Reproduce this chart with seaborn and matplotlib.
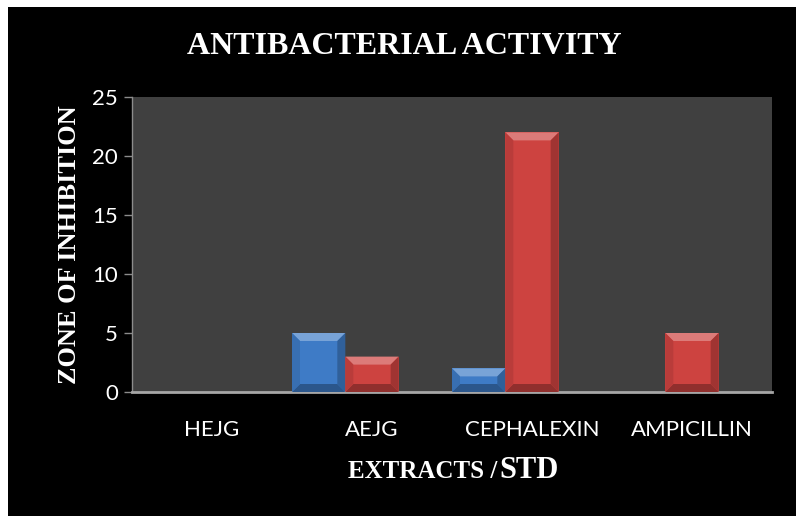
import numpy as np
import pandas as pd
import matplotlib
matplotlib.use("Agg")
import matplotlib.pyplot as plt
import seaborn as sns
from matplotlib.patches import Rectangle, Polygon
from matplotlib.transforms import IdentityTransform

# -------------------------
# Data
# -------------------------
categories = ["HEJG", "AEJG", "CEPHALEXIN", "AMPICILLIN"]
series_names = ["Series1", "Series2", "Series3"]
series1 = [0, 5, 2, 0]
series2 = [0, 3, 22, 5]
series3 = [0, 0, 0, 0]
y_ticks = [0, 5, 10, 15, 20, 25]

df = pd.DataFrame({
    "extract": categories * 3,
    "series": [s for s in series_names for _ in categories],
    "zone": series1 + series2 + series3,
})

colors = ["#3e7bc6", "#cd4340", "#9bbb59"]

# -------------------------
# Style
# -------------------------
sns.set_style("dark", {"axes.facecolor": "#404040", "figure.facecolor": "black"})
plt.rcParams["font.family"] = ["Lato", "DejaVu Sans"]

fig = plt.figure(figsize=(7.96, 5.16), dpi=100, facecolor="white")
# black chart area with the thin white margin at top/left
fig.patches.append(Rectangle((8 / 796, 0), 1, 1 - 7 / 516, transform=fig.transFigure,
                             facecolor="black", edgecolor="none", zorder=-10))

ax = fig.add_axes([132 / 796, 124 / 516, 640 / 796, 295 / 516])
ax.set_facecolor("#404040")

sns.barplot(data=df, x="extract", y="zone", hue="series", palette=colors,
            width=1.0, saturation=1, legend=False, ax=ax, edgecolor="none")

ax.set_ylim(0, 25)
ax.set_yticks(y_ticks)
ax.set_xlim(-0.5, 3.5)
ax.grid(False)

for side in ["top", "right"]:
    ax.spines[side].set_visible(False)
ax.spines["left"].set_color("#8c8c8c")
ax.spines["left"].set_linewidth(1.0)
ax.spines["bottom"].set_color("#a6a6a6")
ax.spines["bottom"].set_linewidth(2.0)

ax.tick_params(axis="y", direction="out", length=6, width=1, color="#8c8c8c",
               labelsize=16, labelcolor="white", pad=4, left=True)
ax.tick_params(axis="x", length=0, labelsize=16, labelcolor="white", pad=20)

ax.set_xlabel("")
ax.set_ylabel("ZONE OF INHIBITION", family="Liberation Serif", fontweight="bold",
              fontsize=19, color="white", labelpad=8)

fig.text(404 / 796, 1 - 47 / 516, "ANTIBACTERIAL ACTIVITY", family="Liberation Serif",
         fontweight="bold", fontsize=23, color="white", ha="center", va="center")
fig.text(497 / 796, 1 - 478 / 516, "EXTRACTS /", family="Liberation Serif",
         fontweight="bold", fontsize=18, color="white", ha="right", va="baseline")
fig.text(499 / 796, 1 - 478 / 516, "STD", family="Liberation Serif",
         fontweight="bold", fontsize=22, color="white", ha="left", va="baseline")

# -------------------------
# Bevel effect on bars
# -------------------------
fig.canvas.draw()
renderer = fig.canvas.get_renderer()


def shade(c, f):
    c = np.array(matplotlib.colors.to_rgb(c))
    if f > 0:
        return tuple(c + (1 - c) * f)
    return tuple(c * (1 + f))


for bar in list(ax.patches):
    if bar.get_height() <= 0:
        continue
    x0, y0, x1, y1 = bar.get_window_extent(renderer).extents
    fc = bar.get_facecolor()
    b = min(8, (y1 - y0) / 2, (x1 - x0) / 2)
    polys = [
        ([(x0, y1), (x1, y1), (x1 - b, y1 - b), (x0 + b, y1 - b)], shade(fc, 0.3)),
        ([(x0, y0), (x1, y0), (x1 - b, y0 + b), (x0 + b, y0 + b)], shade(fc, -0.3)),
        ([(x0, y0), (x0 + b, y0 + b), (x0 + b, y1 - b), (x0, y1)], shade(fc, -0.1)),
        ([(x1, y0), (x1 - b, y0 + b), (x1 - b, y1 - b), (x1, y1)], shade(fc, -0.22)),
    ]
    for pts, col in polys:
        fig.add_artist(Polygon(pts, closed=True, transform=IdentityTransform(),
                               facecolor=col, edgecolor="none", zorder=5))

fig.savefig("out.png", dpi=100, facecolor=fig.get_facecolor())
